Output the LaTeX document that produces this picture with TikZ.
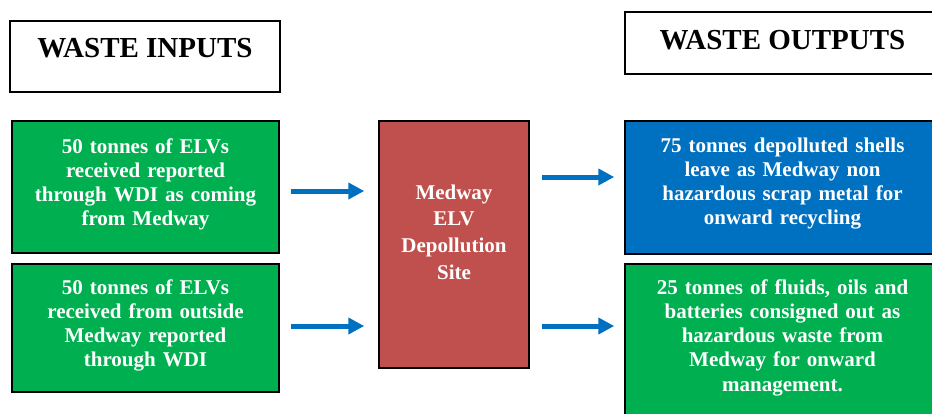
\documentclass[tikz,border=0pt]{standalone}
\usepackage{fontspec}
\setmainfont{Liberation Serif}
\usetikzlibrary{arrows.meta}

\definecolor{wastegreen}{HTML}{00B050}
\definecolor{wasteblue}{HTML}{0070C0}
\definecolor{sitered}{HTML}{C0504D}
\definecolor{flowblue}{HTML}{0070C0}

\tikzset{
  headbox/.style={draw=black, line width=1.5pt, fill=white, inner sep=0pt,
    font=\fontsize{29}{34}\selectfont\bfseries},
  wastebox/.style={draw=black, line width=1.5pt, text=white, inner sep=0pt,
    align=center, font=\fontsize{21}{24.3}\selectfont\bfseries},
  flow/.style={flowblue, line width=5pt, -{Triangle[length=16pt,width=16pt]}}
}

\begin{document}
\begin{tikzpicture}[x=1pt,y=-1pt]
	\useasboundingbox (0,0) rectangle (932,413);

	% Headings.
	\node[headbox, minimum width=270pt, text height=36.5pt, text depth=34.5pt] (inputs) at (145,56.5) {WASTE INPUTS};
	\node[headbox, minimum width=315pt, text height=37.5pt, text depth=24.5pt] (outputs) at (782.5,43) {WASTE OUTPUTS};

	% Inputs.
	\node[wastebox, fill=wastegreen, text width=267pt, text height=32pt, text depth=100pt] (in1) at (145.5,187)
		{50 tonnes of ELVs\\ received reported\\ through WDI as coming\\ from Medway};
	\node[wastebox, fill=wastegreen, text width=267pt, text height=30pt, text depth=98pt] (in2) at (145.5,328)
		{50 tonnes of ELVs\\ received from outside\\ Medway reported\\ through WDI};

	% Site.
	\node[wastebox, fill=sitered, text width=150pt, text height=78pt, text depth=169pt,
		font=\fontsize{21}{26.7}\selectfont\bfseries] (site) at (454,244.5)
		{Medway\\ ELV\\ Depollution\\ Site};

	% Outputs.
	\node[wastebox, fill=wasteblue, text width=315pt, text height=31pt, text depth=102pt] (out1) at (782.5,187.5)
		{75 tonnes depolluted shells\\ leave as Medway non\\ hazardous scrap metal for\\ onward recycling};
	\node[wastebox, fill=wastegreen, text width=315pt, text height=30pt, text depth=131pt] (out2) at (782.5,344.5)
		{25 tonnes of fluids, oils and\\ batteries consigned out as\\ hazardous waste from\\ Medway for onward\\ management.};

	% Arrows.
	\draw[flow] ([shift={(11,4)}]in1.east) -- ([shift={(-14,4)}]site.west |- in1.east);
	\draw[flow] ([shift={(11,-2)}]in2.east) -- ([shift={(-14,-2)}]site.west |- in2.east);
	\draw[flow] ([shift={(12,-10.5)}]site.east |- out1.west) -- ([shift={(-10,-10.5)}]out1.west);
	\draw[flow] ([shift={(12,-2)}]site.east |- in2.east) -- ([shift={(-10,-2)}]out2.west |- in2.east);

\end{tikzpicture}
\end{document}
